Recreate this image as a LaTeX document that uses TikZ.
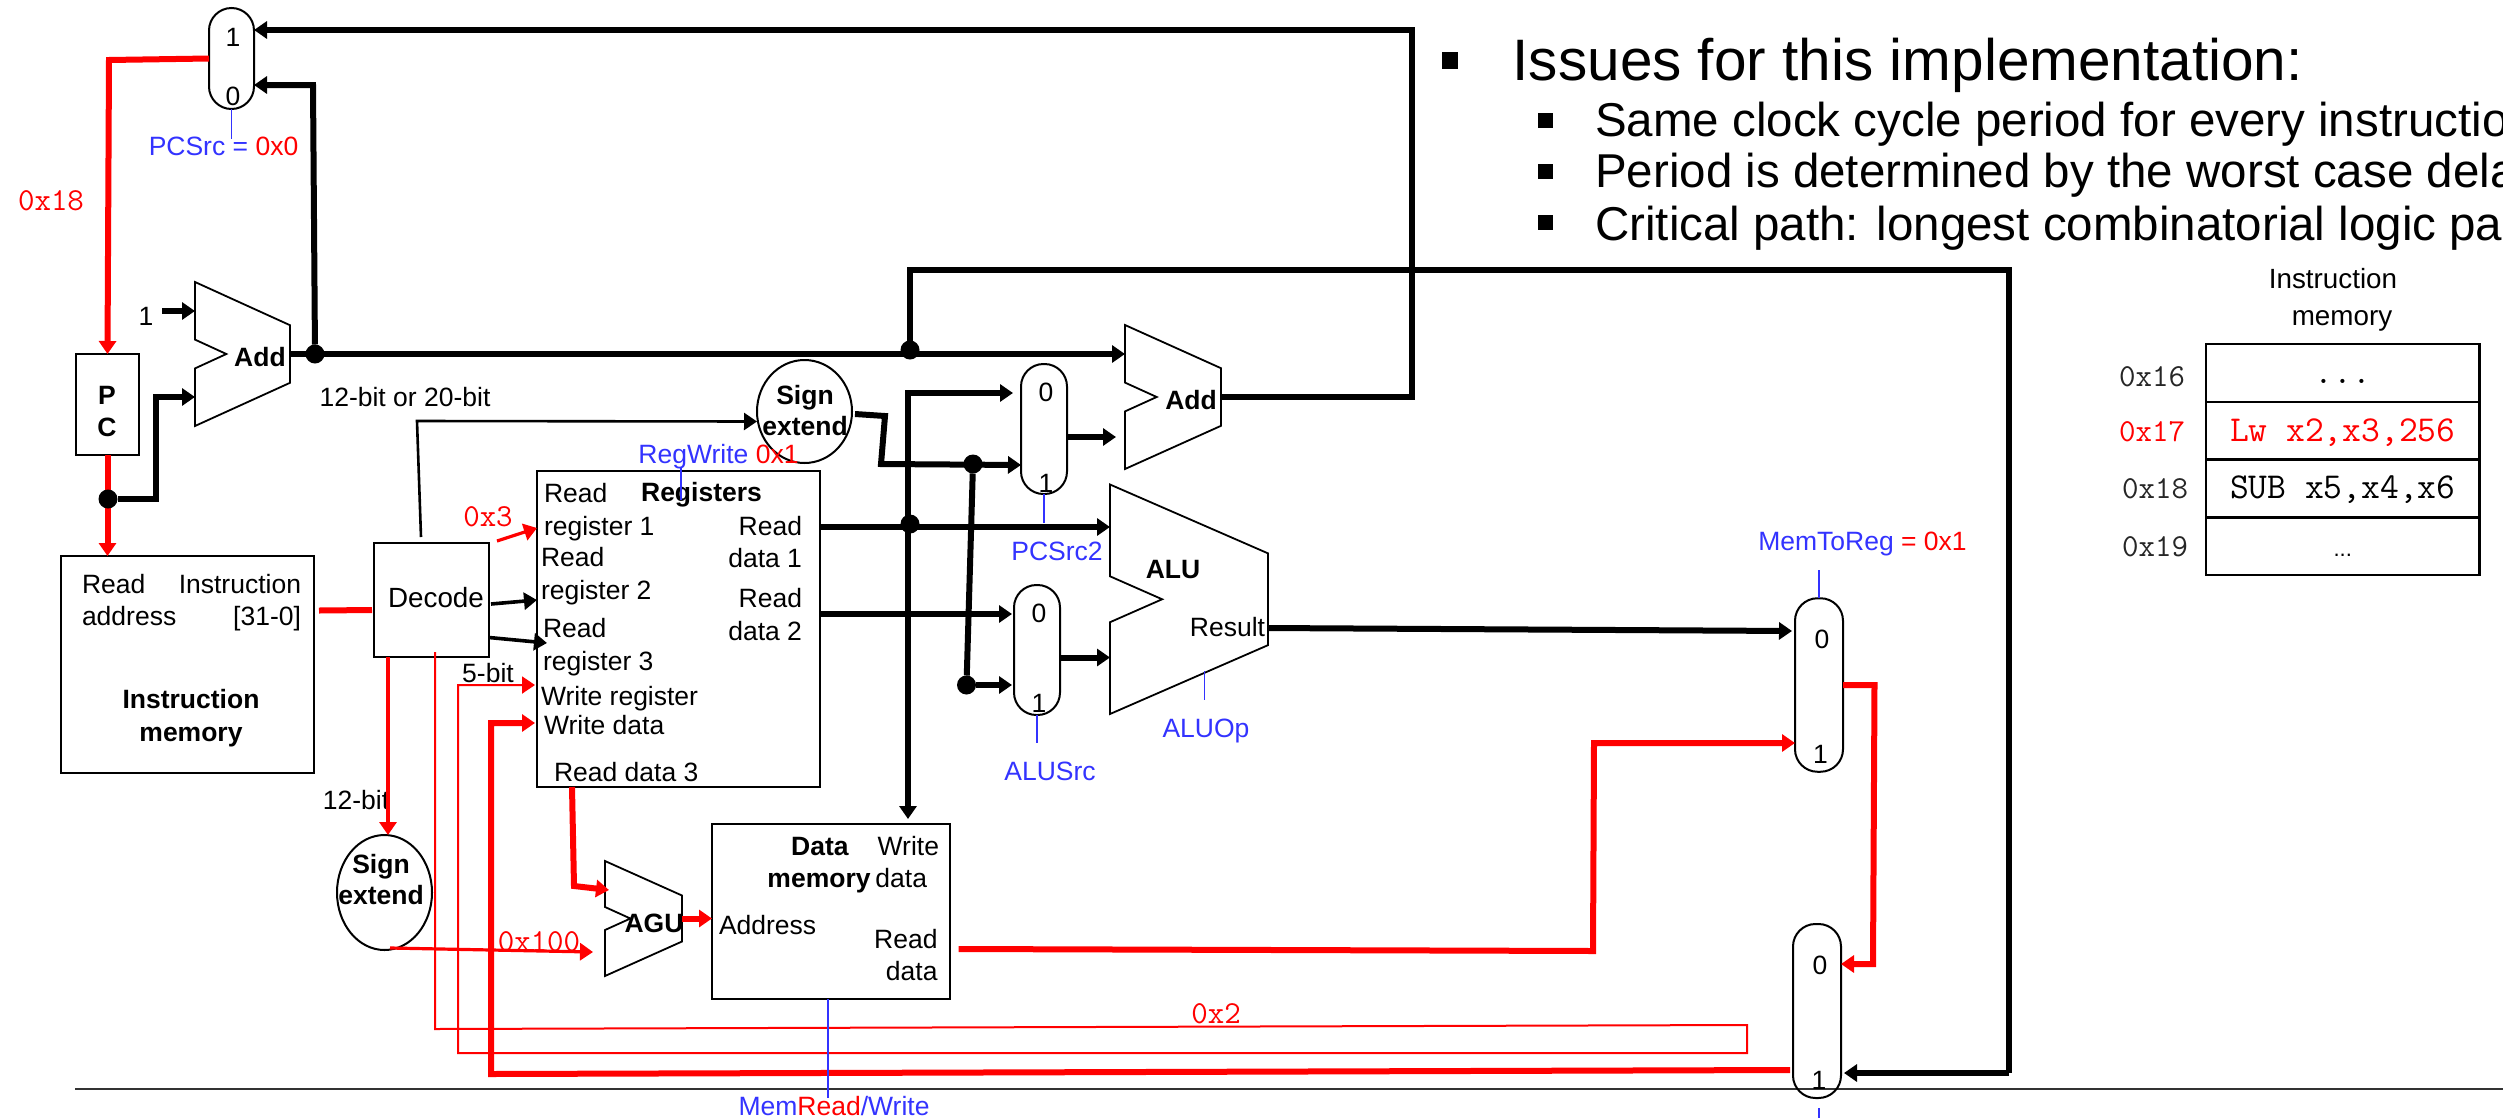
\documentclass[tikz,border=0pt]{standalone}
\usepackage{fontspec}
\setmainfont{Liberation Sans}
\usetikzlibrary{arrows.meta,shapes.geometric}
\definecolor{ctlblue}{RGB}{51,51,255}
\newcommand{\elide}{...}
\tikzset{
  >={Triangle[length=13pt,width=17pt]},
  unit/.style={line width=1.8pt,line join=miter},
  block/.style={draw,line width=2.2pt,inner sep=0pt,outer sep=0pt},
  mux/.style={draw,line width=2pt,inner sep=0pt,outer sep=0pt,minimum width=46pt,rounded corners=22.5pt},
  blob/.style={draw,ellipse,line width=2pt,inner sep=0pt,outer sep=0pt},
  dot/.style={circle,fill=black,inner sep=0pt,outer sep=0pt,minimum size=19pt},
  lab/.style={inner sep=0pt,outer sep=0pt,text height=19pt,text depth=0pt},
  addr/.style={lab,font=\ttfamily\fontsize{32}{36}\selectfont,text=black!85},
  cell/.style={block,line width=2.6pt,minimum width=273.5pt,minimum height=58pt,text height=20pt,text depth=0pt,font=\ttfamily\fontsize{36.5}{40}\selectfont},
  bullet/.style={fill=black,inner sep=0pt,outer sep=0pt},
  bus/.style={line width=6pt},
  rbus/.style={line width=6pt,draw=red},
  wire/.style={line width=2.6pt},
  mwire/.style={line width=3.6pt},
  rwire/.style={line width=3.2pt,draw=red},
  rthin/.style={line width=2pt,draw=red},
  ctl/.style={line width=1.8pt,draw=ctlblue},
}
% #1 name, #2 #3 corner, #4 #5 size, #6 #7 input pins
\newcommand{\aluunit}[7]{%
  \draw[unit] (#2,#3)--(#2+#4,#3+.3*#5)--(#2+#4,#3+.7*#5)--(#2,#3+#5)--(#2,#3+.6*#5)--(#2+.33*#4,#3+.5*#5)--(#2,#3+.4*#5)--cycle;
  \coordinate (#1-a) at (#2,#3+#6);\coordinate (#1-b) at (#2,#3+#7);\coordinate (#1-out) at (#2+#4,#3+.5*#5);}
\begin{document}
\begin{tikzpicture}[x=1pt,y=-1pt,font=\fontsize{26.5}{31}\selectfont]
\useasboundingbox (0,0) rectangle (2503,1117);
\draw[line width=1.5pt,black!80] (75,1089)--(2503,1089);
% muxes and boxes
\node[mux,minimum width=45pt,minimum height=101pt] (muxpc) at (231.5,58.5){};
\node[mux,minimum height=130pt] (muxsrc2) at (1044,429){};
\node[mux,minimum height=130pt] (muxalu) at (1037,650){};
\node[mux,minimum width=48pt,minimum height=173.5pt] (muxwb) at (1819,685){};
\node[mux,minimum width=48pt,minimum height=174pt] (muxrd) at (1817,1011){};
\node[block,minimum width=63pt,minimum height=101pt] (pc) at (107.5,404.5){};
\node[block,minimum width=253pt,minimum height=217pt] (imem) at (187.5,664.5){};
\node[block,minimum width=115pt,minimum height=114pt] (decode) at (431.5,600){};
\node[block,minimum width=283pt,minimum height=316pt] (regs) at (678.5,629){};
\node[block,minimum width=238pt,minimum height=175pt] (dmem) at (831,911.5){};
\node[blob,minimum width=95pt,minimum height=103pt] (sexthi) at (804.5,411.5){};
\node[blob,minimum width=95pt,minimum height=115pt] (sextlo) at (384.5,892.5){};
\aluunit{addpc}{195}{282}{95}{144}{29}{115}
\aluunit{addbr}{1125}{325}{96}{144}{29}{112}
\aluunit{alu}{1110}{484.5}{158}{229.5}{42.5}{173}
\aluunit{agu}{605}{861}{77}{115}{29}{91}
\coordinate (aluresult) at (1268,628);\coordinate (aluop) at (1204.5,671);
\draw[rbus,->] (pc.south)--(pc.south|-imem.north);
\foreach \n/\x/\y in {jnext/315/354,jpc/108/499,jadd/910/350,jregs/910/524,jsign/973/464,jsrc/966.5/685}{\node[dot] (\n) at (\x,\y){};}
% labels
\foreach \n/\x/\y/\t in {pin1/233/37/1,pin2/233/96/0,pin3/1046/392/0,pin4/1046/483/1,pin5/1039/613/0,pin6/1039/703/1,pin7/1822/638.5/0,pin8/1820.5/754/1,pin9/1820/965/0,pin10/1819/1080/1,one/146/316/1,
  pclab/107/395/\textbf{P},pclab2/107/427/\textbf{C},addlab/260/357/\textbf{Add},addlab2/1191/399.5/\textbf{Add},alulab/1173/569/\textbf{ALU},agulab/654/923/\textbf{AGU},reglab/701.5/492/\textbf{Registers},
  imlab/191/699/\textbf{Instruction},imlab2/191/732/\textbf{memory},dmlab/820/845.5/\textbf{Data},dmlab2/819/878/\textbf{memory},
  sx1/805/395/\textbf{Sign},sx2/805/426/\textbf{extend},sx3/381/864/\textbf{Sign},sx4/381/895/\textbf{extend},
  bits1/405/397/12-bit or 20-bit,bits2/488/672.5/5-bit,bits3/356/800/12-bit,
  srclab/223.5/146/{\textcolor{ctlblue}{PCSrc =} \textcolor{red}{0x0}},src2lab/1057/551/\textcolor{ctlblue}{PCSrc2},alsrc/1050/771/\textcolor{ctlblue}{ALUSrc},aluoplab/1206/727.5/\textcolor{ctlblue}{ALUOp},
  wblab/1862.5/540.5/{\textcolor{ctlblue}{MemToReg} \textcolor{red}{= 0x1}},rwlab/718.5/453.5/{\textcolor{ctlblue}{RegWrite} \textcolor{red}{0x1}},
  mrlab/834/1106/{\textcolor{ctlblue}{Mem}\textcolor{red}{Read}\textcolor{ctlblue}{/Write}}}{\node[lab] (\n) at (\x,\y){\t};}
\foreach \n/\x/\y/\t in {declab/436/598/Decode,imt1/2333/279/Instruction,imt2/2342/316/memory}{\node[lab,font=\fontsize{27.8}{32}\selectfont] (\n) at (\x,\y){\t};}
\foreach \n/\x/\y/\t in {l1/82/584/Read,l2/82/616/address,l3/544/493/Read,l4/544/526/register 1,l5/541/557/Read,l6/541/590/register 2,l7/543/628/Read,l8/543/661/register 3,l9/541/696/Write register,l10/544/725/Write data,l11/554/772/Read data 3,l12/719/925/Address}{\node[lab,anchor=west] (\n) at (\x,\y){\t};}
\foreach \n/\x/\y/\t in {r1/301/584/Instruction,r2/301/616/[31-0],r3/802/526/Read,r4/802/558/data 1,r5/802/598/Read,r6/802/631/data 2,r7/1265/627/Result,r8/939/845.5/Write,r9/927/878/data,r10/937.5/939/Read,r11/937.5/971/data}{\node[lab,anchor=east] (\n) at (\x,\y){\t};}
\foreach \n/\x/\y/\t in {hex1/51/201/0x18,hex2/488/517/0x3,hex3/539/942/0x100,hex4/1216/1013.5/0x2}{\node[addr,text=red] (\n) at (\x,\y){\t};}
% slide text
\node[bullet,minimum width=16pt,minimum height=17pt] (tick0) at (1450,60){};
\node[anchor=base west,inner sep=0pt,font=\fontsize{58.5}{64}\selectfont] (head) at (1512.5,80){Issues for this implementation:};
\foreach \n/\y/\b/\t in {s1/136/120/Same clock cycle period for every instructio,s2/187.5/171/Period is determined by the worst case dela,s3/240/222/Critical path: longest combinatorial logic pa}{
  \node[bullet,minimum size=15pt] (tick\n) at (1545,\b){};
  \node[anchor=base west,inner sep=0pt,font=\fontsize{47.5}{54}\selectfont] (\n) at (1595,\y){\t};}
% program listing
\foreach \n/\y/\t in {cell16/373/\elide,cell17/431/{\textcolor{red}{Lw x2,x3,256}},cell18/488.5/{SUB x5,x4,x6},cell19/546/{\rmfamily\fontsize{22}{26}\selectfont\elide}}{\node[cell] (\n) at (2342.75,\y){\t};}
\foreach \n/\x/\y/\t in {a16/2152/377/0x16,a18/2155/489/0x18,a19/2155/546.5/0x19}{\node[addr] (\n) at (\x,\y){\t};}
\node[addr,text=red] (a17) at (2152,432){0x17};
% fetch
\draw[rbus,->] (muxpc.west)--(109,60)--(pc.north);
\draw[bus,->] (jpc)--(156,499)--(156,397)--(addpc-b);
\draw[bus,->] ([xshift=9pt,yshift=5pt]one.east)--(addpc-a);
\draw[bus,->] (addpc-out)--(addbr-a);
\draw[bus,->] (jnext)--(313,85)--([yshift=-26.5pt]muxpc.east);
\draw[bus,->] (addbr-out)--(1412,397)--(1412,30)--([yshift=28.5pt]muxpc.east);
\draw[bus,->] ([yshift=-8pt]muxsrc2.east)--([xshift=-9pt]addbr-b);
\draw[bus] (jadd)--(910,270)--(2009,270)--(2009,1073);
\draw[bus,->] (2009,1073)--([xshift=3pt,yshift=-62pt]muxrd.east);
% decode
\draw[rbus] ([xshift=5pt,yshift=54pt]imem.east)--([xshift=-2pt,yshift=-10pt]decode.west);
\draw[wire,->] ([xshift=-10.5pt,yshift=6pt]decode.north)--(417,421)--([yshift=-10pt]sexthi.west);
\draw[rwire,->] ([xshift=8pt,yshift=2pt]decode.north east)--([yshift=101pt]regs.west);
\draw[mwire,->] ([xshift=2pt,yshift=-4pt]decode.east)--([yshift=29pt]regs.west);
\draw[mwire,->] ([yshift=-37.5pt]decode.east)--([xshift=10pt,yshift=-14pt]regs.west);
\draw[rwire,->] ([xshift=-43.5pt]decode.south)--([xshift=3.5pt]sextlo.north);
\draw[rthin,->] ([xshift=3.5pt,yshift=5pt]decode.south)--(435,1029)--(1747,1025)--(1747,1053)--(458,1053)--(458,685)--([xshift=-2pt,yshift=-56pt]regs.west);
\draw[rbus,->] ([xshift=-3pt,yshift=-59pt]muxrd.west)--(491,1074)--(491,723)--([xshift=-2pt,yshift=-94pt]regs.west);
% execute
\draw[bus,->] ([yshift=102pt]regs.east)--(alu-a);
\draw[bus,->] ([yshift=15pt]regs.east)--([xshift=-2pt,yshift=36pt]muxalu.west);
\draw[bus,<->] ([xshift=-8pt,yshift=36pt]muxsrc2.west)--(908,393)--([xshift=77pt,yshift=5pt]dmem.north);
\draw[bus,->] ([xshift=3pt,yshift=-2.5pt]sexthi.east)--(885,416)--(881,464)--([yshift=-36pt]muxsrc2.west);
\draw[bus] (jsign)--(jsrc);
\draw[bus,->] (jsrc)--([xshift=-2pt,yshift=-35pt]muxalu.west);
\draw[bus,->] ([yshift=-7.5pt]muxalu.east)--(alu-b);
\draw[bus,->] (aluresult)--([xshift=-3pt,yshift=54pt]muxwb.west);
% memory
\draw[rbus,->] ([xshift=-106.5pt]regs.south)--(574,886)--([xshift=4pt]agu-a);
\draw[rwire,->] ([xshift=5.5pt,yshift=2pt]sextlo.south)--([xshift=-12pt]agu-b);
\draw[rbus,->] (agu-out)--(dmem.west|-agu-out);
\draw[rbus,->] ([xshift=8.5pt,yshift=-37.5pt]dmem.east)--(1593,951)--(1594,743)--([yshift=-58pt]muxwb.west);
\draw[rbus,->] (muxwb.east)--(1874.5,685)--(1873,964)--([yshift=47pt]muxrd.east);
% control ticks
\draw[ctl] (muxpc.south)--++(0,30);
\draw[ctl] (muxsrc2.south)--++(0,29);
\draw[ctl] (muxalu.south)--++(0,28);
\draw[ctl] (aluop)--++(0,29);
\draw[ctl] (muxwb.north)--++(0,-28);
\draw[ctl] ([xshift=2pt,yshift=-10pt]muxrd.south)--++(0,10);
\draw[ctl] ([xshift=-3pt]dmem.south)--++(0,99);
\draw[ctl] ([xshift=2.5pt,yshift=3pt]regs.north)--++(0,32);
\end{tikzpicture}
\end{document}
